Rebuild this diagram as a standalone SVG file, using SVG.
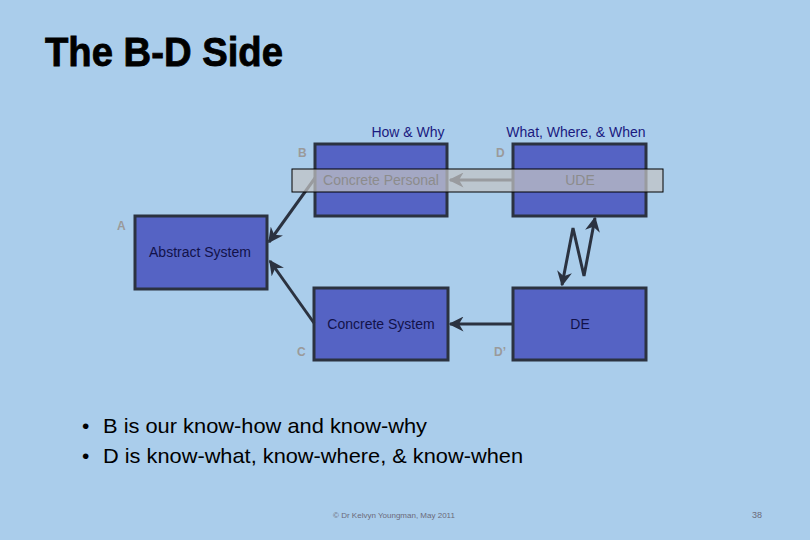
<svg xmlns="http://www.w3.org/2000/svg" width="810" height="540" viewBox="0 0 810 540">
<defs>
<style>
.box{fill:#5563c4;stroke:#2b3240;stroke-width:3}
.lbl{font-family:"Liberation Sans",Arial,sans-serif;font-size:14px;fill:#12124a;text-anchor:middle}
.hdr{font-family:"Liberation Sans",Arial,sans-serif;font-size:14px;fill:#1a1a80;text-anchor:middle}
.ltr{font-family:"Liberation Sans",Arial,sans-serif;font-size:12px;font-weight:bold;fill:#9a9a9a}
.con{stroke:#2b3240;stroke-width:3;fill:none}
.bul{font-family:"Liberation Sans",Arial,sans-serif;font-size:21px;fill:#000}
</style>
<marker id="ah" viewBox="0 0 10 10" refX="9" refY="5" markerWidth="5" markerHeight="5" orient="auto-start-reverse" markerUnits="strokeWidth">
<path d="M0,0 L10,5 L0,10 L3,5 z" fill="#2b3240"/>
</marker>
</defs>
<rect width="810" height="540" fill="#aacdeb"/>
<text x="45" y="66" font-family="'Liberation Sans',Arial,sans-serif" font-size="40" font-weight="bold" textLength="238" lengthAdjust="spacingAndGlyphs" fill="#000" stroke="#000" stroke-width="0.8">The B-D Side</text>

<text class="hdr" x="408" y="137">How &amp; Why</text>
<text class="hdr" x="576" y="137">What, Where, &amp; When</text>

<g id="nodeB"><rect class="box" x="315" y="144" width="132" height="72"/><text class="ltr" x="298" y="157">B</text></g>
<g id="nodeD"><rect class="box" x="513" y="144" width="133" height="72"/><text class="ltr" x="496" y="157">D</text></g>
<g id="nodeA"><rect class="box" x="135" y="216" width="132" height="73"/><text class="ltr" x="117" y="230">A</text><text class="lbl" x="200" y="257">Abstract System</text></g>
<g id="nodeC"><rect class="box" x="314" y="288" width="134" height="72"/><text class="ltr" x="297" y="356">C</text><text class="lbl" x="381" y="329">Concrete System</text></g>
<g id="nodeDE"><rect class="box" x="513" y="288" width="133" height="72"/><text class="ltr" x="494" y="356">D’</text><text class="lbl" x="580" y="329">DE</text></g>

<g id="connectors">
<line class="con" x1="315" y1="178" x2="269" y2="242" marker-end="url(#ah)"/>
<line class="con" x1="314" y1="323" x2="270" y2="261" marker-end="url(#ah)"/>
<line class="con" x1="513" y1="324" x2="450" y2="324" marker-end="url(#ah)"/>
<polyline class="con" points="595,218 584,276 573,228 562,285" marker-start="url(#ah)" marker-end="url(#ah)"/>
<line class="con" x1="513" y1="180" x2="450" y2="180" marker-end="url(#ah)"/>
</g>

<g id="overlay">
<rect x="292" y="169" width="371" height="23" fill="#c4c4c4" fill-opacity="0.72" stroke="#000" stroke-width="1"/>
<text x="381" y="185" font-family="'Liberation Sans',Arial,sans-serif" font-size="14" fill="#8c8c8c" text-anchor="middle">Concrete Personal</text>
<text x="580" y="185" font-family="'Liberation Sans',Arial,sans-serif" font-size="14" fill="#8c8c8c" text-anchor="middle">UDE</text>
</g>

<text class="bul" x="82" y="433">•</text>
<text class="bul" x="103" y="433" textLength="324" lengthAdjust="spacingAndGlyphs">B is our know-how and know-why</text>
<text class="bul" x="82" y="463">•</text>
<text class="bul" x="103" y="463" textLength="420" lengthAdjust="spacingAndGlyphs">D is know-what, know-where, &amp; know-when</text>

<text x="394" y="518" font-family="'Liberation Sans',Arial,sans-serif" font-size="8" fill="#6a6a7a" text-anchor="middle">© Dr Kelvyn Youngman, May 2011</text>
<text x="757" y="518" font-family="'Liberation Sans',Arial,sans-serif" font-size="9" fill="#6a6a7a" text-anchor="middle">38</text>
</svg>
